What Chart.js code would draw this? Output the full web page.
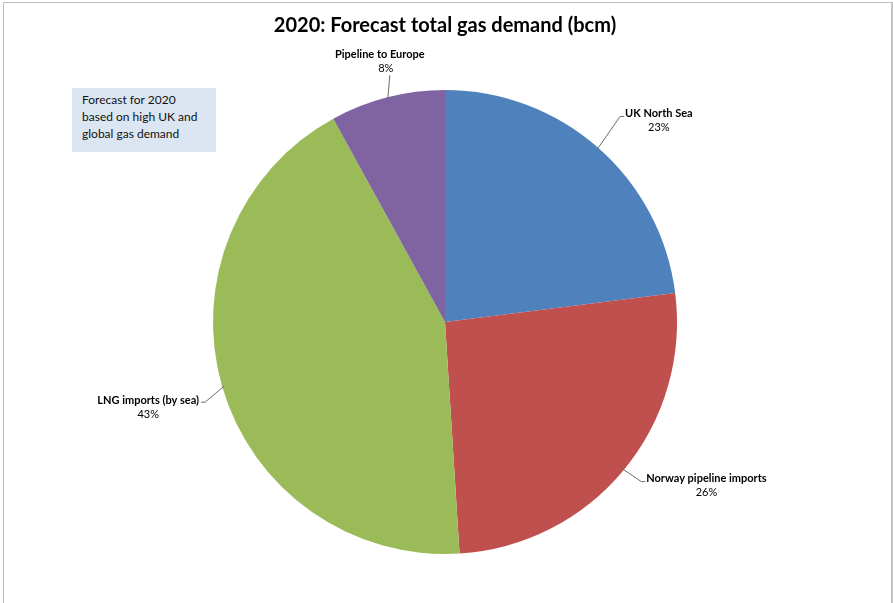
<!DOCTYPE html>
<html>
<head>
<meta charset="utf-8">
<script src="https://cdn.jsdelivr.net/npm/chart.js@4/dist/chart.umd.min.js"></script>
<style>
  html, body { margin: 0; padding: 0; background: #fff; }
  #wrap { position: relative; width: 893px; height: 603px; }
  #note {
    position: absolute; left: 72px; top: 88px; width: 134px; height: 58px;
    background: #dce6f2; padding: 3px 0 3px 10px;
    font: 12px "Lato", "Liberation Sans", sans-serif; line-height: 17px; color: #111;
  }
  #frame {
    position: absolute; left: 3px; top: 2px; width: 887px; height: 610px;
    border: 1px solid #bdbdbd; border-right: 2px solid #c4c4c4; pointer-events: none;
  }
</style>
</head>
<body>
<div id="wrap">
  <canvas id="chart" width="893" height="603"></canvas>
  <div id="note">Forecast for 2020<br>based on high UK and<br>global gas demand</div>
  <div id="frame"></div>
</div>
<script>
const categories = ["UK North Sea", "Norway pipeline imports", "LNG imports (by sea)", "Pipeline to Europe"];
const shares = [23, 26, 43, 8];
const sliceColors = ["#4f81bd", "#c0504d", "#9bbb59", "#8064a2"];

// where each leader line bends, relative to the slice's outer mid point
const leaders = [
  { dx: 23, dy: -33, side: "right" },
  { dx: 19, dy: 13, side: "right" },
  { dx: -19, dy: 16, side: "left" },
  { dx: 2, dy: -24, side: "top" },
];

const labelFont = '11px "Lato", "Liberation Sans", sans-serif';
const nameFont = 'bold 11px "Lato", "Liberation Sans", sans-serif';

const pieLabels = {
  id: "pieLabels",
  afterDatasetsDraw(chart) {
    const ctx = chart.ctx;
    const meta = chart.getDatasetMeta(0);
    const data = chart.data.datasets[0].data;
    const total = data.reduce((a, b) => a + b, 0);
    ctx.save();
    meta.data.forEach((arc, i) => {
      const mid = (arc.startAngle + arc.endAngle) / 2;
      const ax = arc.x + Math.cos(mid) * (arc.outerRadius - 2);
      const ay = arc.y + Math.sin(mid) * (arc.outerRadius - 2);
      const l = leaders[i];
      const ex = ax + l.dx;
      const ey = ay + l.dy;
      const pct = Math.round((data[i] / total) * 100) + "%";
      const name = chart.data.labels[i];

      ctx.strokeStyle = "#6b6b6b";
      ctx.lineWidth = 1;
      ctx.beginPath();
      ctx.moveTo(ax, ay);
      ctx.lineTo(ex, ey);
      let tx = ex;
      if (l.side === "right") tx = ex + 4;
      if (l.side === "left") tx = ex - 4;
      ctx.lineTo(tx, ey);
      ctx.stroke();

      ctx.fillStyle = "#000";
      ctx.textBaseline = "middle";
      ctx.font = nameFont;
      const w = ctx.measureText(name).width;
      let cx, ny;
      if (l.side === "right") { cx = tx + 1 + w / 2; ny = ey - 3; }
      else if (l.side === "left") { cx = tx - 2 - w / 2; ny = ey - 2; }
      else { cx = ex - 10; ny = ey - 21; }
      ctx.textAlign = "center";
      ctx.fillText(name, cx, ny);
      ctx.font = labelFont;
      ctx.fillText(pct, l.side === "top" ? cx + 6 : cx, ny + 14);
    });
    ctx.restore();
  },
};

new Chart(document.getElementById("chart"), {
  type: "pie",
  data: {
    labels: categories,
    datasets: [{
      data: shares,
      backgroundColor: sliceColors,
      borderWidth: 0,
    }],
  },
  options: {
    responsive: false,
    animation: false,
    layout: { padding: { left: 213, right: 216, top: 0, bottom: 49 } },
    plugins: {
      legend: { display: false },
      tooltip: { enabled: false },
      title: {
        display: true,
        text: "2020: Forecast total gas demand (bcm)",
        color: "#000",
        font: { family: '"Lato", "Liberation Sans", sans-serif', size: 20, weight: "bold" },
        padding: { top: 14, bottom: 52 },
      },
    },
  },
  plugins: [pieLabels],
});
</script>
</body>
</html>
